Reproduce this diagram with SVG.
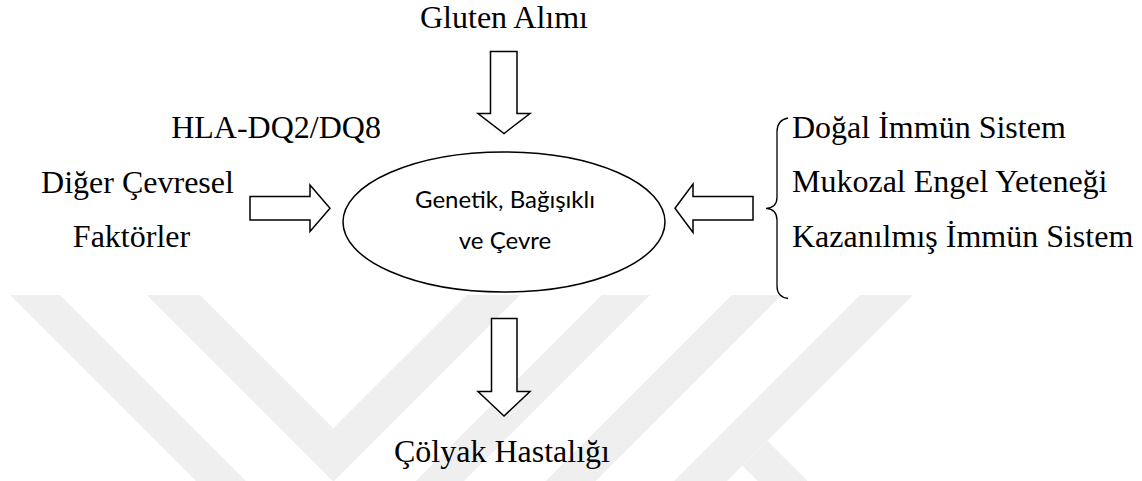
<svg xmlns="http://www.w3.org/2000/svg" width="1142" height="481" viewBox="0 0 1142 481">
<style>
.t{font-family:"Liberation Serif","Times New Roman",serif;font-size:32px;fill:#000}
.c{font-family:Lato,"Liberation Sans",sans-serif;font-size:24px;fill:#000}
.blk{fill:#fff;stroke:#000;stroke-width:1.5;stroke-linejoin:miter}
.wm{fill:#efefef;stroke:none}
</style>
<rect width="1142" height="481" fill="#fff"/>
<g id="watermark">
<polygon class="wm" points="10,295 60,295 246,481 196,481"/>
<polygon class="wm" points="601.7,295 650,295 464,481 415.7,481"/>
<polygon class="wm" points="146.7,295 200,295 333.3,428.3 466.7,295 520,295 334,481 332.7,481"/>
<polygon class="wm" points="731.7,295 781.7,295 595.7,481 545.7,481"/>
<polygon class="wm" points="860,295 913,295 727,481 674,481"/>
<polygon class="wm" points="767.3,440.7 807.7,481 757.7,481 742.3,465.7"/>
</g>
<g id="connectors">
<polygon class="blk" points="490.5,51.5 517,51.5 517,113.5 530,113.5 504,133.5 478,113.5 490.5,113.5"/>
<polygon class="blk" points="491.5,318.5 517,318.5 517,391.5 530,391.5 504,416 478,391.5 491.5,391.5"/>
<polygon class="blk" points="250,196.5 310,196.5 310,185 330,208.3 310,231.5 310,220 250,220"/>
<polygon class="blk" points="753,196.5 693,196.5 693,184 675,208.3 693,232.5 693,220 753,220"/>
<path d="M788,118 Q777,120 777,132 L777,197 Q777,208 766,208.3 Q777,209 777,220 L777,286 Q777,297 788,298.5" fill="none" stroke="#000" stroke-width="1.3"/>
</g>
<g id="node-center">
<ellipse cx="504" cy="222" rx="161" ry="70" fill="none" stroke="#000" stroke-width="1.5"/>
<text class="c" x="505" y="208" text-anchor="middle">Genetik, Bağışıklı</text>
<text class="c" x="505" y="248.5" text-anchor="middle">ve Çevre</text>
</g>
<g id="node-gluten"><text class="t" x="504" y="28" text-anchor="middle">Gluten Alımı</text></g>
<g id="node-hla"><text class="t" x="276" y="138" text-anchor="middle">HLA-DQ2/DQ8</text></g>
<g id="node-diger">
<text class="t" x="137.5" y="193" text-anchor="middle">Diğer Çevresel</text>
<text class="t" x="131.5" y="247" text-anchor="middle">Faktörler</text>
</g>
<g id="node-immune">
<text class="t" x="792" y="138">Doğal İmmün Sistem</text>
<text class="t" x="792" y="192">Mukozal Engel Yeteneği</text>
<text class="t" x="792" y="247">Kazanılmış İmmün Sistem</text>
</g>
<g id="node-colyak"><text class="t" x="502" y="462" text-anchor="middle">Çölyak Hastalığı</text></g>
</svg>
